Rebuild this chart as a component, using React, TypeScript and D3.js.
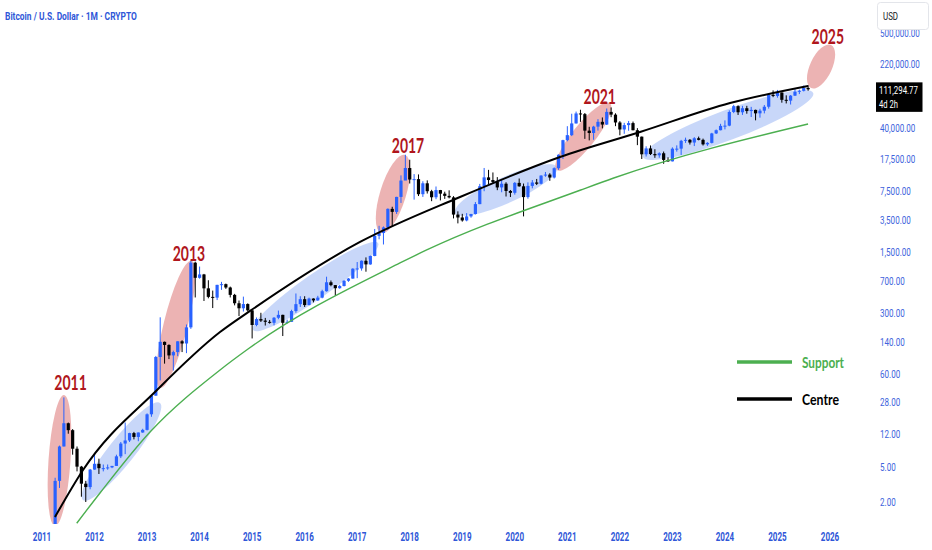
import { useEffect, useRef } from 'react'
import * as d3 from 'd3'

// monthly candles, first one is April 2011
const firstMonth = 2011 + 3 / 12
const firstOpen = 0.78

const closes = [
  3.5, 8.7, 16.1, 13.4, 8.2, 5.1, 3.25, 2.97, 4.72,
  5.5, 4.9, 4.9, 5.0, 5.2, 6.7, 9.4, 10.2, 12.4, 11.2, 12.6, 13.5,
  20.4, 33.4, 93, 139, 128, 97, 106, 141, 133, 204, 1130, 757,
  828, 573, 457, 448, 628, 640, 586, 482, 386, 338, 378, 320,
  217, 254, 244, 236, 230, 263, 284, 230, 236, 314, 377, 430,
  368, 437, 416, 448, 531, 673, 624, 575, 609, 700, 742, 964,
  970, 1190, 1080, 1350, 2300, 2480, 2875, 4700, 4340, 6450, 9950, 13860,
  10220, 10330, 6930, 9250, 7500, 6390, 7730, 7030, 6630, 6370, 4040, 3740,
  3460, 3850, 4100, 5330, 8560, 10820, 10080, 9590, 8290, 9150, 7550, 7190,
  9350, 8540, 6420, 8630, 9450, 9140, 11350, 11650, 10780, 13800, 19700, 28990,
  33110, 45140, 58790, 57750, 37300, 35040, 41460, 47100, 43820, 61300, 57000, 46300,
  38480, 43190, 45540, 37710, 31800, 19930, 23300, 20050, 19420, 20490, 17170, 16540,
  23130, 23150, 28480, 29250, 27220, 30470, 29230, 25940, 26960, 34640, 37720, 42270,
  42580, 61130, 71290, 60670, 67530, 62680, 64620, 58970, 63330, 70220, 96400, 93430,
  102400, 84350, 82550, 94200, 104600, 107100, 115700, 111294.77
]

const highs = [
  3.8, 8.9, 31.9, 16.4, 13.8, 8.7, 5.2, 3.5, 4.8,
  7.2, 6.3, 5.4, 5.4, 5.2, 7.0, 9.8, 16.4, 12.5, 12.8, 12.6, 13.9,
  20.9, 33.7, 95.7, 266, 140, 130, 110, 141, 145, 220, 1190, 1160,
  1020, 840, 710, 540, 630, 680, 650, 600, 495, 415, 460, 385,
  320, 265, 300, 262, 248, 268, 318, 285, 250, 325, 500, 465,
  465, 448, 440, 470, 552, 780, 705, 625, 628, 710, 753, 975,
  1150, 1200, 1300, 1365, 2760, 3000, 2950, 4760, 4970, 6470, 11400, 19700,
  17250, 11800, 11700, 9770, 9990, 7780, 8500, 7760, 7410, 7680, 6580, 4400,
  4120, 4200, 4120, 5630, 9100, 13880, 13200, 12330, 10900, 10370, 9510, 7750,
  9580, 10500, 9190, 9480, 10080, 10380, 11450, 12480, 12080, 14100, 19900, 29300,
  41950, 58350, 61780, 64850, 59500, 41300, 42400, 50500, 52900, 67000, 69000, 59050,
  48000, 45850, 48200, 47450, 39850, 31950, 24650, 25200, 22800, 21000, 21450, 18400,
  23950, 25250, 29200, 31000, 29850, 31400, 31850, 30200, 27500, 35200, 38450, 44700,
  48950, 63900, 73800, 72800, 71950, 71950, 70000, 65000, 66500, 73600, 99600, 108300,
  109600, 102500, 95000, 95700, 111900, 110500, 123200, 124400
]

const lows = [
  0.56, 2.9, 8.7, 12.2, 7.0, 4.5, 2.3, 2.0, 2.8,
  4.7, 4.2, 4.5, 4.7, 4.9, 5.2, 6.4, 7.1, 9.8, 10.5, 10.0, 12.5,
  13.3, 19.1, 33.4, 50, 78, 88, 65, 95, 106, 103, 196, 450,
  740, 410, 440, 340, 420, 550, 565, 450, 365, 275, 310, 310,
  152, 210, 235, 214, 225, 215, 253, 162, 226, 235, 300, 350,
  350, 366, 395, 412, 440, 525, 605, 470, 567, 603, 680, 740,
  750, 915, 890, 1070, 1340, 2100, 1830, 2680, 2970, 4110, 5500, 10900,
  9200, 6000, 6600, 6450, 7050, 5760, 6070, 5880, 6120, 6200, 3650, 3200,
  3350, 3380, 3720, 4050, 5320, 7500, 9070, 9330, 7710, 7300, 6520, 6430,
  6850, 8450, 3850, 6150, 8100, 8830, 8980, 10990, 9880, 10520, 13200, 17600,
  28130, 32300, 44950, 47050, 30000, 28800, 29300, 37330, 39600, 43300, 53250, 42000,
  32950, 34300, 37200, 37600, 25400, 17600, 18800, 19550, 18150, 18200, 15500, 16300,
  16500, 21400, 19550, 26950, 25800, 24800, 28850, 25150, 24900, 26550, 34100, 37600,
  38550, 41900, 59300, 56500, 56550, 58400, 53500, 49000, 52600, 58900, 66800, 90500,
  89300, 78200, 76600, 74500, 93400, 98200, 105300, 107300
]

const yearTicks = [2011, 2012, 2013, 2014, 2015, 2016, 2017, 2018, 2019, 2020, 2021, 2022, 2023, 2024, 2025, 2026]
const priceTicks = [500000, 220000, 40000, 17500, 7500, 3500, 1500, 700, 300, 140, 60, 28, 12, 5, 2]
const lastPrice = 111294.77
const timeLeft = '4d 2h'
const title = 'Bitcoin / U.S. Dollar · 1M · CRYPTO'

// drawn curves, [year, price]
const centreLine: [number, number][] = [
  [2011.247, 1.345], [2011.781, 4.67], [2013.189, 38.8], [2014.389, 180],
  [2014.96, 315], [2017.054, 1955], [2018.958, 6435], [2020.861, 18560],
  [2022.384, 35980], [2024.097, 77550], [2025.582, 121650]
]
const supportLine: [number, number][] = [
  [2011.661, 1.14], [2012.104, 2.54], [2013.056, 12.77], [2014.389, 66],
  [2014.922, 115], [2017.815, 1121], [2018.323, 1582], [2021.255, 7745],
  [2021.883, 10640], [2025.582, 44470]
]

// highlighted zones, major axis from -> to as [year, price]
const peakZones: [number, number][][] = [
  [[2011.247, 1.06], [2011.419, 34]],
  [[2013.246, 41], [2013.846, 1190]],
  [[2017.454, 2483], [2017.91, 19570]],
  [[2020.798, 13150], [2021.813, 76900]],
  [[2025.64, 115300], [2026.02, 360000]]
]
const rallyZones: [number, number][][] = [
  [[2011.78, 2.11], [2013.246, 27.5]],
  [[2015.017, 190], [2017.396, 1904]],
  [[2018.862, 4214], [2020.804, 14240]],
  [[2022.44, 18560], [2025.68, 101100]]
]
const peakWidths = [11, 12, 13, 11.5, 11]
const rallyWidths = [13, 12.5, 13, 15]

const cycleLabels = ['2011', '2013', '2017', '2021', '2025']
const cycleLabelAt: [number, number][] = [
  [2011.543, 48], [2013.798, 1461], [2017.967, 25850], [2021.617, 94600], [2025.959, 459500]
]

const legend = [
  { name: 'Support', color: '#4caf50' },
  { name: 'Centre', color: '#000000' }
]

const App = () => {
  const svgRef = useRef<SVGSVGElement>(null)
  const width = 932
  const height = 550

  useEffect(() => {
    if (!svgRef.current) return
    const svg = d3.select(svgRef.current)
    svg.selectAll('*').remove()

    const x = d3.scaleLinear().domain([2011, 2026]).range([42, 830])
    const y = d3.scaleLog().domain([2, 40000]).range([502, 128])

    const squeeze = (
      sel: any, str: string, px: number, py: number,
      o: { size: number; weight?: string; color: string; family?: string; anchor?: string; sx?: number; width?: number }
    ) => {
      const t = sel.append('text')
        .attr('font-family', o.family || 'Roboto, sans-serif')
        .attr('font-size', o.size)
        .attr('font-weight', o.weight || 'normal')
        .attr('fill', o.color)
        .attr('text-anchor', o.anchor || 'start')
        .attr('dominant-baseline', 'central')
        .text(str)
      let sx = o.sx || 0.68
      if (o.width) {
        const w = (t.node() as SVGTextElement).getComputedTextLength()
        if (w > 0) sx = o.width / w
      }
      t.attr('transform', `translate(${px},${py}) scale(${sx},1)`)
      return t
    }

    svg.append('rect').attr('width', width).attr('height', height).attr('fill', '#ffffff')

    svg.append('defs').append('clipPath').attr('id', 'plot-clip')
      .append('rect').attr('x', 0).attr('y', 0).attr('width', 872).attr('height', 524)

    const plot = svg.append('g').attr('clip-path', 'url(#plot-clip)')

    // zones behind candles
    const zone = (pts: [number, number][], half: number, fill: string, opacity: number) => {
      const x1 = x(pts[0][0]), y1 = y(pts[0][1])
      const x2 = x(pts[1][0]), y2 = y(pts[1][1])
      const cx = (x1 + x2) / 2, cy = (y1 + y2) / 2
      const rx = Math.hypot(x2 - x1, y2 - y1) / 2
      const ang = Math.atan2(y2 - y1, x2 - x1) * 180 / Math.PI
      plot.append('ellipse')
        .attr('cx', 0).attr('cy', 0).attr('rx', rx).attr('ry', half)
        .attr('transform', `translate(${cx},${cy}) rotate(${ang})`)
        .attr('fill', fill).attr('fill-opacity', opacity)
    }
    rallyZones.forEach((z, i) => zone(z, rallyWidths[i], '#6f95ee', 0.38))
    peakZones.forEach((z, i) => zone(z, peakWidths[i], '#dc7474', 0.55))

    // candles
    const candles = closes.map((c, i) => ({
      t: firstMonth + i / 12,
      o: i === 0 ? firstOpen : closes[i - 1],
      h: highs[i],
      l: lows[i],
      c
    }))
    const up = '#2962ff'
    const down = '#000000'
    const g = plot.append('g')
    g.selectAll('line.wick')
      .data(candles)
      .join('line')
      .attr('class', 'wick')
      .attr('x1', d => x(d.t)).attr('x2', d => x(d.t))
      .attr('y1', d => y(d.h)).attr('y2', d => y(d.l))
      .attr('stroke', d => (d.c >= d.o ? up : down))
      .attr('stroke-width', 1)
    g.selectAll('rect.body')
      .data(candles)
      .join('rect')
      .attr('class', 'body')
      .attr('x', d => x(d.t) - 1.6)
      .attr('width', 3.2)
      .attr('y', d => Math.min(y(d.o), y(d.c)))
      .attr('height', d => Math.max(1, Math.abs(y(d.o) - y(d.c))))
      .attr('fill', d => (d.c >= d.o ? up : down))

    // curves
    const line = d3.line<[number, number]>()
      .x(d => x(d[0]))
      .y(d => y(d[1]))
      .curve(d3.curveMonotoneX)
    plot.append('path').datum(supportLine)
      .attr('d', line).attr('fill', 'none').attr('stroke', '#4caf50').attr('stroke-width', 1.4)
    plot.append('path').datum(centreLine)
      .attr('d', line).attr('fill', 'none').attr('stroke', '#000000').attr('stroke-width', 2)

    // cycle labels
    cycleLabels.forEach((lab, i) => {
      squeeze(svg, lab, x(cycleLabelAt[i][0]), y(cycleLabelAt[i][1]), {
        size: 21, weight: 'bold', color: '#b0161c', family: 'Lato, sans-serif', anchor: 'middle', width: 32.5
      })
    })

    // legend
    const legendY = [362, 399]
    const legendW = [42, 37]
    legend.forEach((it, i) => {
      svg.append('line')
        .attr('x1', 737).attr('x2', 792)
        .attr('y1', legendY[i]).attr('y2', legendY[i])
        .attr('stroke', it.color).attr('stroke-width', 3.5)
      squeeze(svg, it.name, 802, legendY[i], {
        size: 16, weight: 'bold', color: it.color, family: 'Lato, sans-serif', width: legendW[i]
      })
    })

    // title
    squeeze(svg, title, 5, 16, { size: 11, weight: 'bold', color: '#2f57d8', width: 132 })

    // time axis
    yearTicks.forEach(yr => {
      squeeze(svg, String(yr), x(yr), 537, {
        size: 12.5, weight: 'bold', color: '#2f57d8', anchor: 'middle', width: 18.5
      })
    })

    // price axis
    const fmt = d3.format(',.2f')
    priceTicks.forEach(p => {
      squeeze(svg, fmt(p), 880, y(p), { size: 11.5, color: '#3d63dc', sx: 0.7 })
    })

    // currency box
    svg.append('rect')
      .attr('x', 877.5).attr('y', 2.5).attr('width', 51).attr('height', 27).attr('rx', 3)
      .attr('fill', '#ffffff').attr('stroke', '#e3e5ea')
    squeeze(svg, 'USD', 883, 15.5, { size: 11, color: '#131722', sx: 0.72 })

    // last price label
    const py = y(lastPrice)
    svg.append('rect')
      .attr('x', 876).attr('y', py - 7).attr('width', 46.5).attr('height', 29.5)
      .attr('fill', '#000000')
    squeeze(svg, fmt(lastPrice), 879, py + 0.5, { size: 11.5, color: '#ffffff', width: 39 })
    squeeze(svg, timeLeft, 879, py + 14.5, { size: 11, color: '#ffffff', width: 19 })
  }, [])

  return (
    <div style={{ position: 'absolute', left: 0, top: 0 }}>
      <svg ref={svgRef} width={width} height={height} style={{ display: 'block' }} />
    </div>
  )
}

export default App
